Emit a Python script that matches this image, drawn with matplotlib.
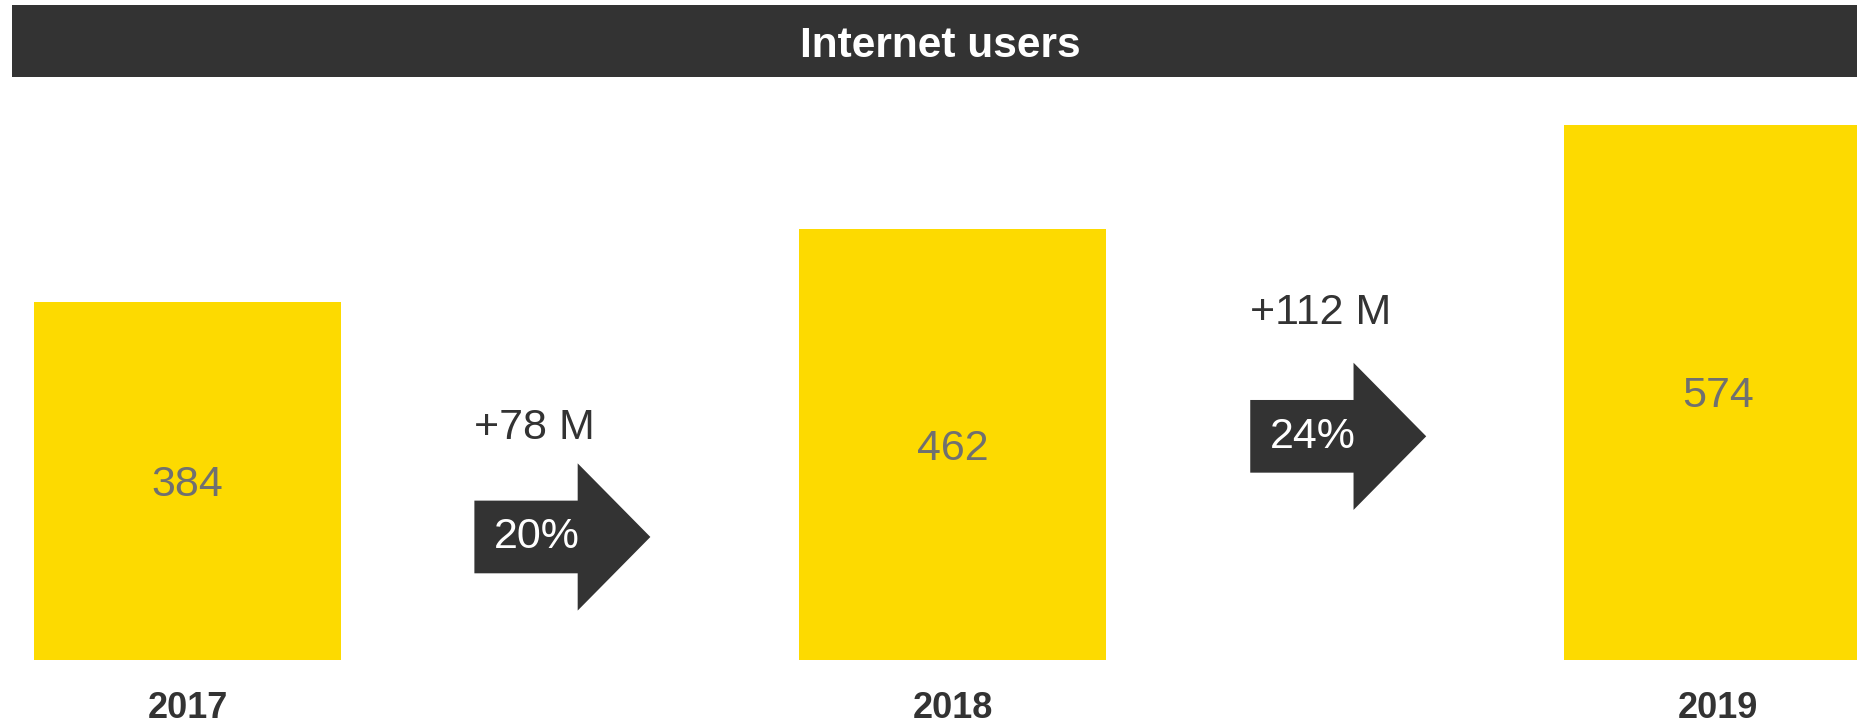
import matplotlib.pyplot as plt
from matplotlib.patches import Polygon, Rectangle

plt.rcParams['font.family'] = ['Liberation Sans', 'DejaVu Sans']

# data
years = ['2017', '2018', '2019']
users = [384, 462, 574]
growth_abs = ['+78 M', '+112 M']
growth_pct = ['20%', '24%']

YELLOW = '#FDDA00'
DARK = '#333333'
GREY = '#707070'

# layout of the growth arrows (data units)
arrow_left = [0.375, 1.389]
arrow_y = [132, 240]
label_dy = [121, 137]
arrow_len = 0.23
head_len = 0.095
body_h = 39
head_h = 79

fig = plt.figure(figsize=(18.57, 7.24), dpi=100)
ax = fig.add_axes([0, 0, 1, 1])
x = list(range(len(years)))

ax.bar(x, users, width=0.401, color=YELLOW)
for i, v in enumerate(users):
    ax.text(i, v / 2 - 16, str(v), ha='center', va='baseline', fontsize=31, color=GREY)
    ax.text(i, -62, years[i], ha='center', va='baseline', fontsize=26,
            fontweight='bold', color=DARK)

# arrows between the bars
for k in range(len(growth_pct)):
    x0 = arrow_left[k]
    x1 = x0 + arrow_len
    xh = x1 - head_len
    y = arrow_y[k]
    pts = [(x0, y - body_h), (xh, y - body_h), (xh, y - head_h), (x1, y),
           (xh, y + head_h), (xh, y + body_h), (x0, y + body_h)]
    ax.add_patch(Polygon(pts, closed=True, color=DARK, lw=0))
    ax.text(x0 + 0.026, y - 12, growth_pct[k], ha='left', va='baseline',
            fontsize=31, color='white')
    ax.text(x0, y + label_dy[k] - 16, growth_abs[k], ha='left', va='baseline',
            fontsize=31, color=DARK)

ax.set_xlim(-0.245, 2.182)
ax.set_ylim(-68.7, 708.2)
ax.axis('off')

# title banner
fig.add_artist(Rectangle((12 / 1857, 1 - 77 / 724), 1 - 12 / 1857, 72 / 724,
                         transform=fig.transFigure, color=DARK, lw=0))
fig.text(940 / 1857, 1 - 57 / 724, 'Internet users', ha='center', va='baseline',
         fontsize=30.5, fontweight='bold', color='white')

fig.savefig('out.png', dpi=100)
